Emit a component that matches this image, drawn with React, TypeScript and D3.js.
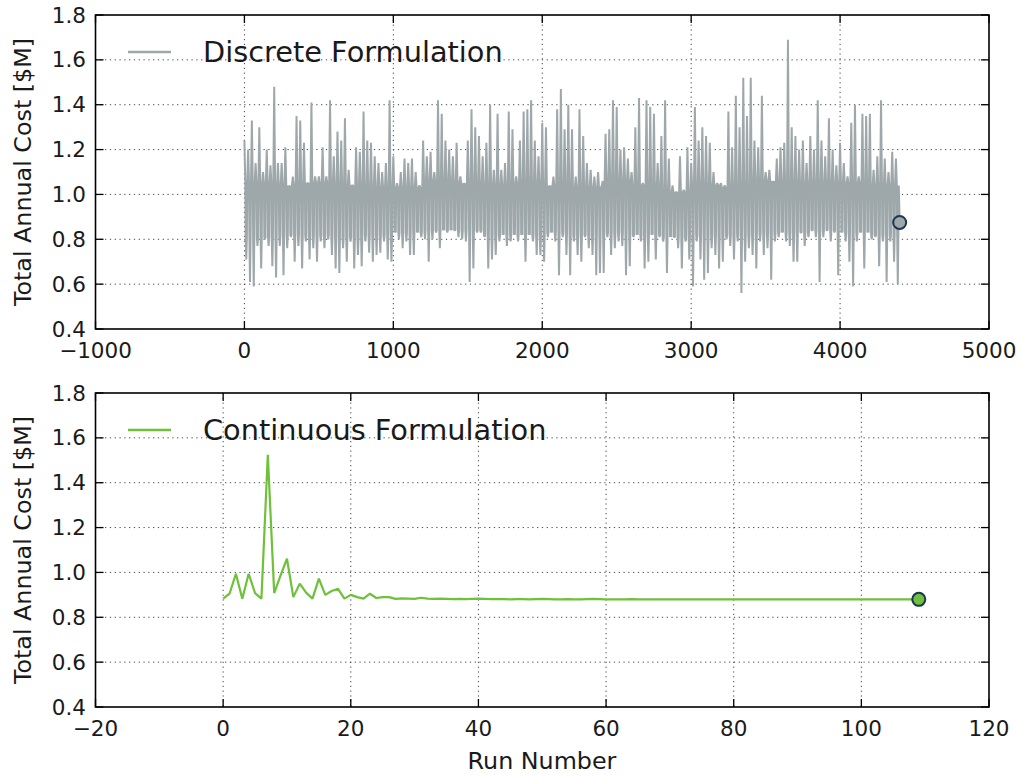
import React from "react";
import * as d3 from "d3";

// ---- Data ----
// Discrete formulation: per block of 25 runs, the highest and lowest cost reached ($M)
const discreteBlockSize = 25;
const discreteHigh = [
  1.24, 1.2, 1.33, 1.14, 1.3, 1.1, 1.2, 1.13, 1.48, 1.14,
  1.14, 1.21, 1.02, 1.08, 1.35, 1.33, 1.23, 1.05, 1.41, 1.08,
  1.08, 1.21, 1.08, 1.42, 1.17, 1.28, 1.24, 1.34, 1.11, 1.04,
  1.21, 1.19, 1.37, 1.24, 1.23, 1.17, 1.14, 1.1, 1.14, 1.42,
  1.17, 1.05, 1.1, 1.16, 1.14, 1.16, 1.1, 1.04, 1.24, 1.17,
  1.19, 1.1, 1.42, 1.36, 1.24, 1.2, 1.17, 1.23, 1.08, 1.04,
  1.24, 1.38, 1.3, 1.26, 1.17, 1.23, 1.4, 1.11, 1.36, 1.11,
  1.14, 1.37, 1.29, 1.08, 1.24, 1.37, 1.38, 1.42, 1.24, 1.17,
  1.32, 1.3, 1.01, 1.08, 1.38, 1.47, 1.29, 1.4, 1.29, 1.08,
  1.38, 1.26, 1.14, 1.11, 1.08, 1.1, 1.04, 1.27, 1.29, 1.42, 1.39, 1.2,
  1.21, 1.16, 1.1, 1.3, 1.43, 1.05, 1.42, 1.39, 1.36, 1.14,
  1.26, 1.42, 1.16, 1.04, 1.01, 1.17, 1.02, 1.21, 1.14, 1.39,
  1.24, 1.3, 1.26, 1.23, 1.1, 1.05, 1.05, 1.04, 1.37, 1.21,
  1.44, 1.3, 1.52, 1.35, 1.52, 1.24, 1.21, 1.44, 1.1, 1.11,
  1.02, 1.16, 1.21, 1.23, 1.69, 1.3, 1.26, 1.2, 1.24, 1.14,
  1.26, 1.2, 1.42, 1.24, 1.17, 1.34, 1.2, 1.13, 1.23, 1.14,
  1.08, 1.32, 1.4, 1.08, 1.36, 1.35, 1.36, 1.11, 1.17, 1.42,
  1.16, 1.1, 1.19, 1.16,
];
const discreteLow = [
  0.71, 0.61, 0.59, 0.77, 0.67, 0.8, 0.77, 0.68, 0.63, 0.77,
  0.64, 0.76, 0.81, 0.7, 0.77, 0.67, 0.79, 0.71, 0.76, 0.7,
  0.79, 0.76, 0.8, 0.73, 0.67, 0.65, 0.76, 0.7, 0.79, 0.67,
  0.73, 0.68, 0.79, 0.74, 0.7, 0.73, 0.74, 0.79, 0.71, 0.7,
  0.84, 0.8, 0.76, 0.79, 0.73, 0.73, 0.84, 0.81, 0.8, 0.7,
  0.8, 0.83, 0.76, 0.86, 0.83, 0.86, 0.84, 0.81, 0.8, 0.79,
  0.61, 0.67, 0.83, 0.83, 0.81, 0.67, 0.71, 0.73, 0.79, 0.83,
  0.77, 0.79, 0.84, 0.79, 0.84, 0.7, 0.84, 0.79, 0.73, 0.73,
  0.7, 0.81, 0.84, 0.79, 0.64, 0.81, 0.73, 0.64, 0.79, 0.73,
  0.7, 0.81, 0.76, 0.73, 0.64, 0.65, 0.65, 0.81, 0.73, 0.76, 0.79, 0.77,
  0.64, 0.68, 0.81, 0.84, 0.79, 0.67, 0.7, 0.84, 0.71, 0.81,
  0.79, 0.65, 0.84, 0.81, 0.76, 0.67, 0.79, 0.71, 0.59, 0.79,
  0.71, 0.62, 0.65, 0.76, 0.73, 0.67, 0.7, 0.8, 0.77, 0.71,
  0.79, 0.56, 0.7, 0.76, 0.73, 0.67, 0.79, 0.73, 0.76, 0.62,
  0.79, 0.81, 0.84, 0.79, 0.77, 0.7, 0.7, 0.83, 0.77, 0.81,
  0.84, 0.81, 0.61, 0.81, 0.84, 0.79, 0.83, 0.64, 0.84, 0.79,
  0.7, 0.59, 0.79, 0.84, 0.67, 0.84, 0.8, 0.81, 0.68, 0.79,
  0.61, 0.79, 0.7, 0.6,
];
// The dense band that most runs fall in, per 200 runs (top / bottom edge, $M)
const discreteBandSize = 200;
const discreteBandTop = [
  1.05, 1.04, 1.05, 1.04, 1.03, 1.03, 1.06, 1.05, 1.04, 1.05, 1.04,
  1.03, 1.06, 1.04, 1.01, 1.04, 1.03, 1.06, 1.05, 1.05, 1.05, 1.04,
];
const discreteBandBottom = [
  0.81, 0.82, 0.82, 0.81, 0.82, 0.83, 0.84, 0.84, 0.82, 0.82, 0.83,
  0.82, 0.83, 0.82, 0.81, 0.82, 0.82, 0.83, 0.83, 0.84, 0.83, 0.82,
];
const discreteFinal = { run: 4400, cost: 0.875 };

// Continuous formulation: cost for each run number 0..109
const continuousCost = [
  0.883, 0.905, 0.994, 0.883, 0.994, 0.908, 0.883, 1.524, 0.908, 0.987,
  1.061, 0.89, 0.95, 0.91, 0.883, 0.972, 0.9, 0.917, 0.927, 0.883,
  0.9, 0.89, 0.883, 0.905, 0.886, 0.89, 0.89, 0.882, 0.884, 0.883,
  0.882, 0.887, 0.883, 0.882, 0.883, 0.882, 0.881, 0.882, 0.881, 0.882,
  0.883, 0.882, 0.881, 0.881, 0.881, 0.88, 0.881, 0.881, 0.88, 0.881,
  0.882, 0.881, 0.88, 0.88, 0.881, 0.88, 0.88, 0.881, 0.882, 0.881,
  0.88, 0.88, 0.88, 0.88, 0.881, 0.88, 0.88, 0.88, 0.88, 0.88,
  0.88, 0.88, 0.88, 0.88, 0.88, 0.88, 0.88, 0.88, 0.88, 0.88,
  0.88, 0.88, 0.88, 0.88, 0.88, 0.88, 0.88, 0.88, 0.88, 0.88,
  0.88, 0.88, 0.88, 0.88, 0.88, 0.88, 0.88, 0.88, 0.88, 0.88,
  0.88, 0.88, 0.88, 0.88, 0.88, 0.88, 0.88, 0.88, 0.88, 0.88,
];

const yTicks = [0.4, 0.6, 0.8, 1.0, 1.2, 1.4, 1.6, 1.8];
const topXTicks = [-1000, 0, 1000, 2000, 3000, 4000, 5000];
const bottomXTicks = [-20, 0, 20, 40, 60, 80, 100, 120];
const yLabel = "Total Annual Cost [$M]";
const xLabel = "Run Number";
const topLegend = "Discrete Formulation";
const bottomLegend = "Continuous Formulation";

// ---- Styles ----
const GRAY = "#9ea7aa";
const GREEN = "#6fc03a";
const EDGE = "#1c3553";
const FONT = "'DejaVu Sans', sans-serif";

const W = 1022;
const H = 776;
const LEFT = 95.5;
const RIGHT = 989;

type Pt = [number, number];

function fmtNum(v: number, decimals: number) {
  const s = v.toFixed(decimals);
  return s.replace("-", "\u2212");
}

function Panel(props: {
  top: number;
  bottom: number;
  xDomain: [number, number];
  xTicks: number[];
  points: Pt[];
  color: string;
  lineWidth: number;
  marker: Pt;
  markerFill: string;
  legend: string;
}) {
  const { top, bottom, xDomain, xTicks, points, color, lineWidth, marker, markerFill, legend } = props;
  const x = d3.scaleLinear().domain(xDomain).range([LEFT, RIGHT]);
  const y = d3.scaleLinear().domain([0.4, 1.8]).range([bottom, top]);
  const line = d3
    .line<Pt>()
    .x((d) => x(d[0]))
    .y((d) => y(d[1]));
  const tickLen = 8;
  const clipId = `clip-${Math.round(top)}`;
  return (
    <g>
      <defs>
        <clipPath id={clipId}>
          <rect x={LEFT} y={top} width={RIGHT - LEFT} height={bottom - top} />
        </clipPath>
      </defs>
      {/* grid */}
      <g stroke="#222" strokeWidth={1} strokeDasharray="1.2,3.6" opacity={0.85}>
        {xTicks.slice(1, -1).map((t) => (
          <line key={"gx" + t} x1={x(t)} x2={x(t)} y1={top} y2={bottom} />
        ))}
        {yTicks.slice(1, -1).map((t) => (
          <line key={"gy" + t} x1={LEFT} x2={RIGHT} y1={y(t)} y2={y(t)} />
        ))}
      </g>
      {/* data */}
      <g clipPath={`url(#${clipId})`}>
        <path d={line(points) || ""} fill="none" stroke={color} strokeWidth={lineWidth} strokeLinejoin="bevel" />
      </g>
      <circle cx={x(marker[0])} cy={y(marker[1])} r={6.5} fill={markerFill} stroke={EDGE} strokeWidth={2} />
      {/* ticks */}
      <g stroke="#000" strokeWidth={1.3}>
        {xTicks.map((t) => (
          <g key={"tx" + t}>
            <line x1={x(t)} x2={x(t)} y1={bottom} y2={bottom - tickLen} />
            <line x1={x(t)} x2={x(t)} y1={top} y2={top + tickLen} />
          </g>
        ))}
        {yTicks.map((t) => (
          <g key={"ty" + t}>
            <line x1={LEFT} x2={LEFT + tickLen} y1={y(t)} y2={y(t)} />
            <line x1={RIGHT} x2={RIGHT - tickLen} y1={y(t)} y2={y(t)} />
          </g>
        ))}
      </g>
      {/* frame */}
      <rect x={LEFT} y={top} width={RIGHT - LEFT} height={bottom - top} fill="none" stroke="#000" strokeWidth={1.6} />
      {/* tick labels */}
      <g fontFamily={FONT} fontSize={21.5} fill="#1a1a1a">
        {xTicks.map((t) => (
          <text key={"lx" + t} x={x(t)} y={bottom + 28.5} textAnchor="middle">
            {fmtNum(t, 0)}
          </text>
        ))}
        {yTicks.map((t) => (
          <text key={"ly" + t} x={86} y={y(t) + 7.5} textAnchor="end">
            {fmtNum(t, 1)}
          </text>
        ))}
      </g>
      <text
        fontFamily={FONT}
        fontSize={23.8}
        fill="#1a1a1a"
        textAnchor="middle"
        transform={`translate(31,${(top + bottom) / 2}) rotate(-90)`}
      >
        {yLabel}
      </text>
      {/* legend */}
      <line x1={128} x2={171} y1={top + 37} y2={top + 37} stroke={color} strokeWidth={2.4} />
      <text x={203} y={top + 37} fontFamily={FONT} fontSize={28.8} fill="#1a1a1a" dominantBaseline="central">
        {legend}
      </text>
    </g>
  );
}

export default function App() {
  // Each 25-run block: an upward spike to its high rising from the band top,
  // the dense band, a dip to its low falling from the band bottom, the band again.
  const discretePoints: Pt[] = [];
  discreteHigh.forEach((hi, k) => {
    const r0 = k * discreteBlockSize;
    const seg = Math.min(Math.floor(r0 / discreteBandSize), discreteBandTop.length - 1);
    const bt = discreteBandTop[seg];
    const bb = discreteBandBottom[seg];
    discretePoints.push([r0, hi]);
    discretePoints.push([r0 + 6, bt]);
    discretePoints.push([r0 + 8.5, bb]);
    discretePoints.push([r0 + 12.5, discreteLow[k]]);
    discretePoints.push([r0 + 16.5, bb]);
    discretePoints.push([r0 + 19, bt]);
  });
  discretePoints.push([discreteFinal.run, discreteFinal.cost]);

  const continuousPoints: Pt[] = continuousCost.map((c, i) => [i, c]);
  const lastC = continuousPoints[continuousPoints.length - 1];

  return (
    <svg
      width={W}
      height={H}
      viewBox={`0 0 ${W} ${H}`}
      style={{ position: "absolute", left: 0, top: 0, background: "#fff" }}
    >
      <rect width={W} height={H} fill="#fff" />
      <Panel
        top={15}
        bottom={329}
        xDomain={[-1000, 5000]}
        xTicks={topXTicks}
        points={discretePoints}
        color={GRAY}
        lineWidth={2}
        marker={[discreteFinal.run, discreteFinal.cost]}
        markerFill={GRAY}
        legend={topLegend}
      />
      <Panel
        top={393}
        bottom={707}
        xDomain={[-20, 120]}
        xTicks={bottomXTicks}
        points={continuousPoints}
        color={GREEN}
        lineWidth={2.2}
        marker={lastC}
        markerFill={GREEN}
        legend={bottomLegend}
      />
      <text x={542} y={769} fontFamily={FONT} fontSize={23.8} fill="#1a1a1a" textAnchor="middle">
        {xLabel}
      </text>
    </svg>
  );
}
